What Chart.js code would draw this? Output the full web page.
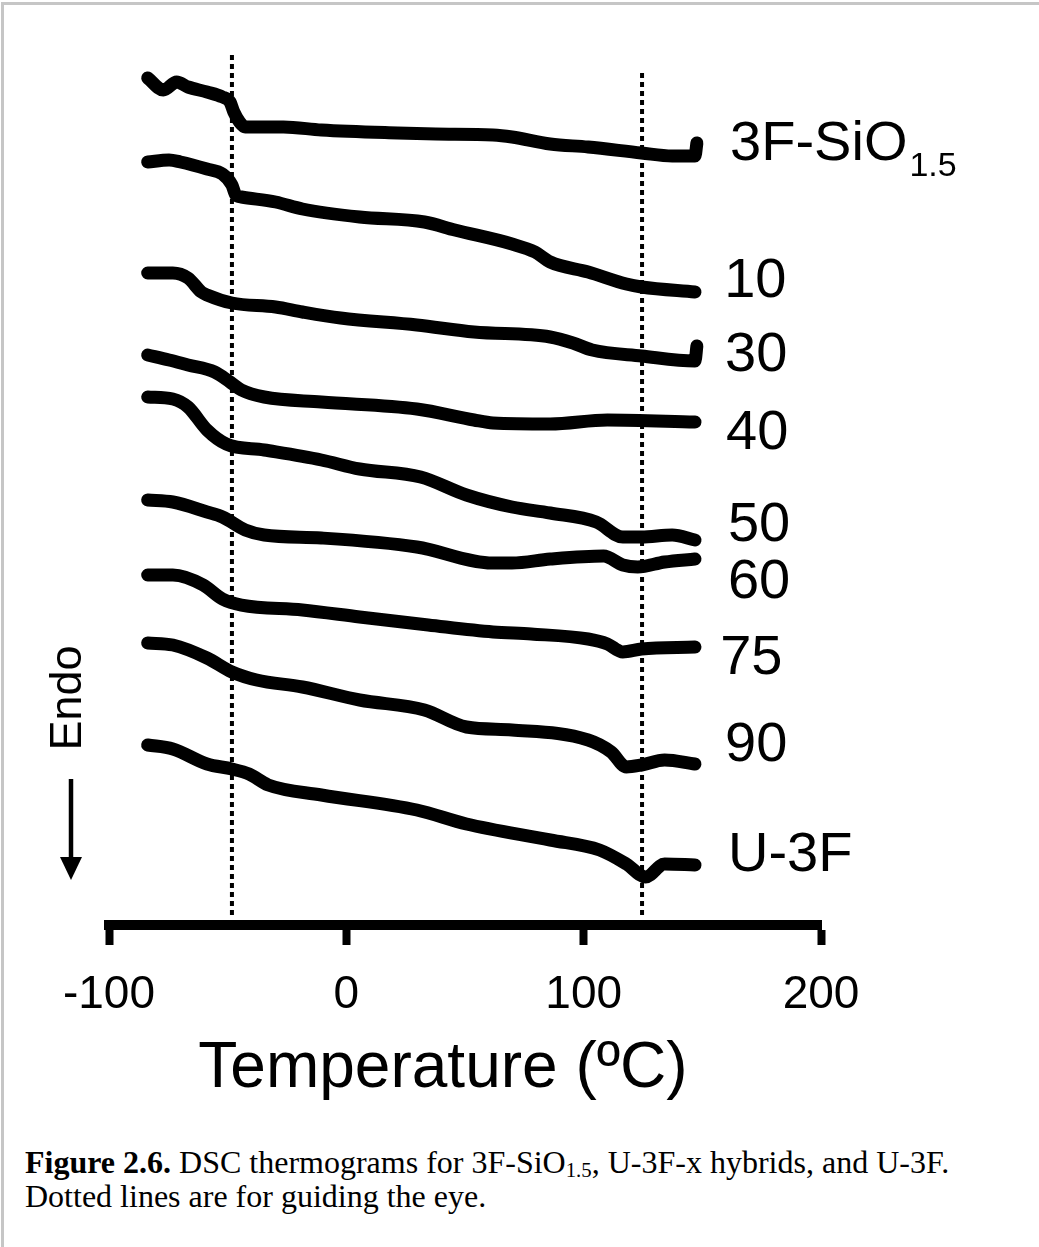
<!DOCTYPE html>
<html>
<head>
<meta charset="utf-8">
<title>DSC thermograms</title>
<script src="https://cdn.jsdelivr.net/npm/chart.js@4.4.1/dist/chart.umd.min.js"></script>
<style>
  html, body { margin: 0; padding: 0; background: #fff; }
  #frame {
    position: absolute; left: 1px; top: 2px; width: 1038px; height: 1245px;
    border-top: 3px solid #c6c6c6; border-left: 3px solid #c6c6c6; box-sizing: border-box;
  }
  #plot { position: absolute; left: 0; top: 0; width: 1039px; height: 1110px; }
  #caption {
    position: absolute; left: 25px; top: 1145px; color: #000;
    font-family: "Liberation Serif", "Times New Roman", serif; font-size: 32px; line-height: 34px;
  }
  #caption sub { font-size: 0.65em; vertical-align: -0.2em; line-height: 0; }
</style>
</head>
<body>
<div id="frame"></div>
<div id="plot"><canvas id="dsc" width="1039" height="1110"></canvas></div>
<div id="caption"><b>Figure 2.6.</b> DSC thermograms for 3F-SiO<sub>1.5</sub>, U-3F-x hybrids, and U-3F.<br>Dotted lines are for guiding the eye.</div>

<script>
// heat flow traces, stacked (a.u., offset per sample) vs temperature in °C
const sio15 = [[-83.7, 8.47], [-77.1, 8.35], [-71.5, 8.43], [-66.7, 8.38], [-58.7, 8.33], [-52.2, 8.28],
  [-49, 8.23], [-47.4, 8.13], [-45, 8.03], [-42.6, 7.98], [-26.5, 7.98], [-10.5, 7.95], [21.6, 7.92],
  [37.7, 7.91], [61.8, 7.90], [69.8, 7.88], [85.9, 7.81], [101.9, 7.78], [124.4, 7.72], [137.3, 7.69],
  [146.9, 7.69], [147.7, 7.82]];
const hyb10 = [[-83.7, 7.63], [-74.7, 7.65], [-69.9, 7.63], [-58.7, 7.56], [-52.2, 7.51], [-48.2, 7.40],
  [-46.6, 7.30], [-44.2, 7.28], [-29.8, 7.23], [-18.5, 7.16], [5.6, 7.08], [32.9, 7.03], [45.7, 6.95],
  [69.8, 6.81], [79.5, 6.73], [85.9, 6.63], [101.9, 6.53], [118, 6.41], [124.4, 6.38], [146.9, 6.33]];
const hyb30 = [[-83.7, 6.52], [-73.1, 6.52], [-66.7, 6.47], [-61.1, 6.33], [-58.7, 6.30], [-48.2, 6.22],
  [-29.8, 6.18], [-18.5, 6.13], [-2.4, 6.07], [29.7, 6.00], [53.8, 5.93], [85.9, 5.88], [95.5, 5.82],
  [103.6, 5.75], [124.4, 5.69], [146.9, 5.64], [147.7, 5.79]];
const hyb40 = [[-83.7, 5.70], [-74.7, 5.65], [-66.7, 5.60], [-55.5, 5.53], [-49, 5.43], [-44.2, 5.35],
  [-34.6, 5.28], [-10.5, 5.23], [29.7, 5.16], [53.8, 5.05], [61.8, 5.02], [85.9, 5.01], [110, 5.05],
  [146.9, 5.03]];
const hyb50 = [[-83.7, 5.28], [-73.1, 5.26], [-66.7, 5.18], [-58.7, 4.95], [-50.6, 4.81], [-34.6, 4.75],
  [-10.5, 4.65], [5.6, 4.56], [31.3, 4.48], [50.6, 4.30], [69.8, 4.18], [85.9, 4.12], [105.3, 4.03],
  [116.5, 3.88], [124.4, 3.88], [137.3, 3.90], [146.9, 3.85]];
const hyb60 = [[-83.7, 4.25], [-73.1, 4.23], [-58.7, 4.13], [-52.2, 4.08], [-42.6, 3.95], [-34.6, 3.90],
  [-10.5, 3.87], [29.7, 3.78], [61.8, 3.62], [69.8, 3.62], [85.9, 3.66], [108.4, 3.69], [116.5, 3.60],
  [122.8, 3.58], [134.1, 3.63], [146.9, 3.66]];
const hyb75 = [[-83.7, 3.50], [-73.1, 3.50], [-60.3, 3.40], [-52.2, 3.26], [-44.2, 3.20], [-18.5, 3.15],
  [5.6, 3.08], [34.5, 3.00], [61.8, 2.93], [77.9, 2.91], [101.9, 2.86], [110, 2.81], [116.5, 2.73],
  [124.4, 2.76], [146.9, 2.78]];
const hyb90 = [[-83.7, 2.82], [-73.1, 2.80], [-58.7, 2.67], [-48.2, 2.53], [-37.8, 2.45], [-18.5, 2.38],
  [5.6, 2.25], [32.9, 2.15], [50.6, 1.98], [69.8, 1.95], [101.9, 1.85], [111.6, 1.73], [118, 1.58],
  [124.4, 1.60], [134.1, 1.65], [146.9, 1.61]];
const u3f = [[-83.7, 1.80], [-73.1, 1.76], [-58.7, 1.61], [-48.2, 1.56], [-41, 1.51], [-32.9, 1.40],
  [-10.5, 1.30], [29.7, 1.15], [50.6, 1.01], [85.9, 0.85], [106.7, 0.75], [118, 0.61], [126.1, 0.48],
  [134.1, 0.61], [146.9, 0.60]];

const sampleNames = ['3F-SiO1.5', '10', '30', '40', '50', '60', '75', '90', 'U-3F'];
const traces = [sio15, hyb10, hyb30, hyb40, hyb50, hyb60, hyb75, hyb90, u3f];

// dotted guides at the two transitions
const guideTemps = [-48.2, 124.6];
const guideTops = [8.70, 8.55];

const xTicks = [-100, 0, 100, 200];

const SANS = '"Liberation Sans", Arial, Helvetica, sans-serif';

const datasets = traces.map((pts, i) => ({
  label: sampleNames[i],
  data: pts.map(p => ({ x: p[0], y: p[1] })),
  borderColor: '#000',
  borderWidth: 13,
  borderCapStyle: 'round',
  borderJoinStyle: 'round',
  cubicInterpolationMode: 'monotone',
  pointRadius: 0,
  fill: false
}));

guideTemps.forEach((t, i) => {
  datasets.push({
    label: 'guide',
    data: [{ x: t, y: 0.1 }, { x: t, y: guideTops[i] }],
    borderColor: '#000',
    borderWidth: 4,
    borderDash: [5, 4],
    pointRadius: 0,
    fill: false
  });
});

// sample names, the "Endo" arrow and the axis title
const dscText = {
  id: 'dscText',
  afterDraw(chart, args, opts) {
    const { ctx, chartArea } = chart;
    const xs = chart.scales.x, ys = chart.scales.y;
    ctx.save();
    ctx.fillStyle = '#000';
    ctx.strokeStyle = '#000';
    ctx.textAlign = 'left';
    ctx.textBaseline = 'alphabetic';

    opts.names.forEach(n => {
      const px = xs.getPixelForValue(n.t);
      const py = ys.getPixelForValue(n.v);
      ctx.font = '56px ' + SANS;
      ctx.fillText(n.text, px, py);
      if (n.sub) {
        const w = ctx.measureText(n.text).width;
        ctx.font = '34px ' + SANS;
        ctx.fillText(n.sub, px + w + 2, py + 16);
      }
    });

    // Endo, reading upward, with the arrow pointing down
    ctx.save();
    ctx.translate(opts.endo.x, opts.endo.y);
    ctx.rotate(-Math.PI / 2);
    ctx.font = '45px ' + SANS;
    ctx.textAlign = 'center';
    ctx.textBaseline = 'middle';
    ctx.fillText('Endo', 0, 0);
    ctx.restore();

    const ax = opts.arrow.x;
    ctx.lineWidth = 4.5;
    ctx.beginPath();
    ctx.moveTo(ax, opts.arrow.top);
    ctx.lineTo(ax, opts.arrow.tip - 20);
    ctx.stroke();
    ctx.beginPath();
    ctx.moveTo(ax, opts.arrow.tip);
    ctx.lineTo(ax - 11, opts.arrow.tip - 23);
    ctx.lineTo(ax + 11, opts.arrow.tip - 23);
    ctx.closePath();
    ctx.fill();

    ctx.font = '64px ' + SANS;
    ctx.textAlign = 'center';
    ctx.textBaseline = 'alphabetic';
    const cx = (chartArea.left + chartArea.right) / 2 + opts.title.dx;
    ctx.fillText('Temperature (ºC)', cx, opts.title.y);
    ctx.restore();
  }
};

new Chart(document.getElementById('dsc'), {
  type: 'line',
  data: { datasets },
  plugins: [dscText],
  options: {
    responsive: false,
    animation: false,
    layout: { padding: { left: 109, right: 218, top: 45, bottom: 75 } },
    plugins: {
      legend: { display: false },
      tooltip: { enabled: false },
      dscText: {
        names: [
          { text: '3F-SiO', sub: '1.5', t: 161.7, v: 7.65 },
          { text: '10', t: 159.2, v: 6.28 },
          { text: '30', t: 159.6, v: 5.54 },
          { text: '40', t: 160.0, v: 4.76 },
          { text: '50', t: 160.8, v: 3.84 },
          { text: '60', t: 160.8, v: 3.27 },
          { text: '75', t: 157.5, v: 2.51 },
          { text: '90', t: 159.6, v: 1.64 },
          { text: 'U-3F', t: 160.8, v: 0.54 }
        ],
        endo: { x: 69, y: 698 },
        arrow: { x: 71, top: 779, tip: 880 },
        title: { dx: -22, y: 1087 }
      }
    },
    scales: {
      x: {
        type: 'linear',
        min: -100,
        max: 200,
        afterFit: s => { s.height = 110; },
        afterBuildTicks: s => { s.ticks = xTicks.map(v => ({ value: v })); },
        border: { display: true, width: 10, color: '#000' },
        grid: { drawOnChartArea: false, tickLength: 20, tickWidth: 8, tickColor: '#000' },
        ticks: { padding: 23, color: '#000', font: { family: SANS, size: 46 } }
      },
      y: { display: false, min: 0, max: 8.8 }
    }
  }
});
</script>
</body>
</html>
